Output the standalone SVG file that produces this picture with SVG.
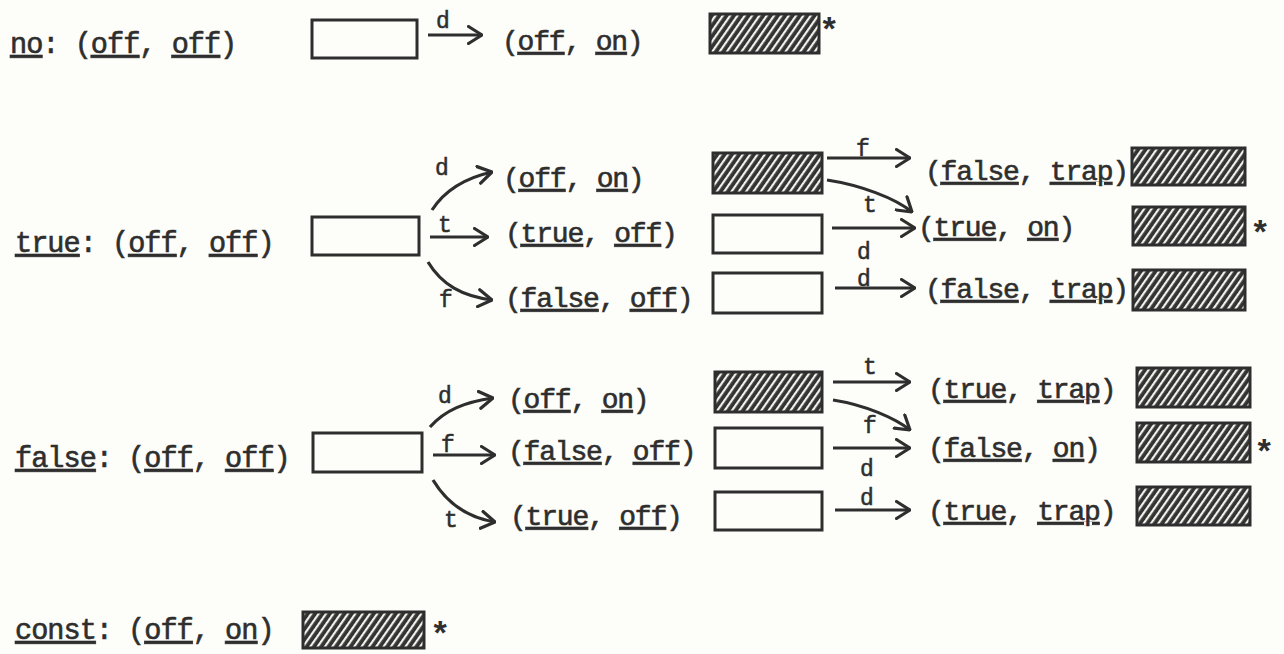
<svg xmlns="http://www.w3.org/2000/svg" width="1284" height="654" viewBox="0 0 1284 654">
<defs>
<style>
.m{font-family:"Liberation Mono","DejaVu Sans Mono",monospace;font-size:28px;letter-spacing:-1.2px;fill:#2e2e2e;stroke:#2e2e2e;stroke-width:0.6}
.lm{font-size:28.6px;letter-spacing:-1px}
.l{font-family:"Liberation Mono","DejaVu Sans Mono",monospace;font-size:23px;fill:#2e2e2e;stroke:#2e2e2e;stroke-width:0.5}
.s{font-family:"Liberation Mono","DejaVu Sans Mono",monospace;font-size:34px;font-weight:bold;fill:#2e2e2e}
.u{text-decoration:underline}
.box{fill:none;stroke:#2e2e2e;stroke-width:3}
.hb{fill:url(#hatch);stroke:#2e2e2e;stroke-width:3}
.c{fill:none;stroke:#2e2e2e;stroke-width:3.2;marker-end:url(#ah)}
</style>
<pattern id="hatch" patternUnits="userSpaceOnUse" width="6" height="6" patternTransform="rotate(35)">
<rect width="6" height="6" fill="#333"/>
<rect x="0" y="0" width="2.2" height="6" fill="#f2f2ec"/>
</pattern>
<marker id="ah" viewBox="0 0 16 20" refX="15" refY="10" markerWidth="16" markerHeight="20" markerUnits="userSpaceOnUse" orient="auto">
<path d="M1.5,1.5 L15,10 L1.5,18.5" fill="none" stroke="#2e2e2e" stroke-width="3.2" stroke-linecap="round" stroke-linejoin="round"/>
</marker>
</defs>
<rect width="1284" height="654" fill="#fdfdf9"/>

<!-- row: no -->
<g id="no-label"><text class="m lm" x="10" y="53"><tspan class="u">no</tspan>: (<tspan class="u">off</tspan>, <tspan class="u">off</tspan>)</text></g>
<g id="no-box"><rect class="box" x="312" y="20" width="105" height="38"/></g>
<g id="no-s1"><text class="m" x="502" y="50">(<tspan class="u">off</tspan>, <tspan class="u">on</tspan>)</text></g>
<g id="no-h1"><rect class="hb" x="710" y="14" width="109" height="39"/><text class="s" x="819" y="41">*</text></g>

<!-- row: true -->
<g id="true-label"><text class="m lm" x="15" y="252"><tspan class="u">true</tspan>: (<tspan class="u">off</tspan>, <tspan class="u">off</tspan>)</text></g>
<g id="true-box"><rect class="box" x="312" y="217" width="107" height="38"/></g>
<g id="true-s-d"><text class="m" x="503" y="187">(<tspan class="u">off</tspan>, <tspan class="u">on</tspan>)</text></g>
<g id="true-s-t"><text class="m" x="505" y="242">(<tspan class="u">true</tspan>, <tspan class="u">off</tspan>)</text></g>
<g id="true-s-f"><text class="m" x="505" y="307">(<tspan class="u">false</tspan>, <tspan class="u">off</tspan>)</text></g>
<g id="true-b-d"><rect class="hb" x="713" y="153" width="109" height="40"/></g>
<g id="true-b-t"><rect class="box" x="713" y="215" width="109" height="38"/></g>
<g id="true-b-f"><rect class="box" x="713" y="273" width="109" height="40"/></g>
<g id="true-r1"><text class="m" x="925" y="180">(<tspan class="u">false</tspan>, <tspan class="u">trap</tspan>)</text><rect class="hb" x="1132" y="148" width="113" height="37"/></g>
<g id="true-r2"><text class="m" x="918" y="236">(<tspan class="u">true</tspan>, <tspan class="u">on</tspan>)</text><rect class="hb" x="1133" y="207" width="112" height="38"/><text class="s" x="1250" y="244">*</text></g>
<g id="true-r3"><text class="m" x="925" y="298">(<tspan class="u">false</tspan>, <tspan class="u">trap</tspan>)</text><rect class="hb" x="1133" y="270" width="112" height="40"/></g>

<!-- row: false -->
<g id="false-label"><text class="m lm" x="15" y="467"><tspan class="u">false</tspan>: (<tspan class="u">off</tspan>, <tspan class="u">off</tspan>)</text></g>
<g id="false-box"><rect class="box" x="313" y="433" width="109" height="39"/></g>
<g id="false-s-d"><text class="m" x="508" y="408">(<tspan class="u">off</tspan>, <tspan class="u">on</tspan>)</text></g>
<g id="false-s-f"><text class="m" x="508" y="460">(<tspan class="u">false</tspan>, <tspan class="u">off</tspan>)</text></g>
<g id="false-s-t"><text class="m" x="510" y="525">(<tspan class="u">true</tspan>, <tspan class="u">off</tspan>)</text></g>
<g id="false-b-d"><rect class="hb" x="715" y="372" width="107" height="40"/></g>
<g id="false-b-f"><rect class="box" x="715" y="428" width="107" height="40"/></g>
<g id="false-b-t"><rect class="box" x="715" y="492" width="107" height="38"/></g>
<g id="false-r1"><text class="m" x="928" y="398">(<tspan class="u">true</tspan>, <tspan class="u">trap</tspan>)</text><rect class="hb" x="1137" y="368" width="113" height="39"/></g>
<g id="false-r2"><text class="m" x="928" y="457">(<tspan class="u">false</tspan>, <tspan class="u">on</tspan>)</text><rect class="hb" x="1137" y="423" width="113" height="39"/><text class="s" x="1254" y="463">*</text></g>
<g id="false-r3"><text class="m" x="928" y="520">(<tspan class="u">true</tspan>, <tspan class="u">trap</tspan>)</text><rect class="hb" x="1137" y="487" width="113" height="38"/></g>

<!-- row: const -->
<g id="const-label"><text class="m lm" x="15" y="639"><tspan class="u">const</tspan>: (<tspan class="u">off</tspan>, <tspan class="u">on</tspan>)</text></g>
<g id="const-h"><rect class="hb" x="303" y="612" width="121" height="36"/><text class="s" x="430" y="645">*</text></g>

<!-- connectors -->
<g id="connectors">
<path class="c" d="M428,35 L482,35"/>
<path class="c" d="M432,210 C445,190 465,178 492,172"/>
<path class="c" d="M430,237 L488,237"/>
<path class="c" d="M428,262 C442,285 462,296 492,300"/>
<path class="c" d="M827,158 L910,158"/>
<path class="c" d="M827,180 C860,185 895,198 912,212"/>
<path class="c" d="M832,228 L915,228"/>
<path class="c" d="M835,288 L915,288"/>
<path class="c" d="M430,427 C445,410 465,402 493,398"/>
<path class="c" d="M433,455 L495,455"/>
<path class="c" d="M433,480 C448,505 470,518 495,522"/>
<path class="c" d="M833,382 L910,382"/>
<path class="c" d="M833,400 C865,405 895,418 910,430"/>
<path class="c" d="M833,448 L910,448"/>
<path class="c" d="M835,510 L910,510"/>
<text class="l" x="436" y="28">d</text>
<text class="l" x="435" y="175">d</text>
<text class="l" x="438" y="232">t</text>
<text class="l" x="439" y="307">f</text>
<text class="l" x="856" y="156">f</text>
<text class="l" x="863" y="212">t</text>
<text class="l" x="857" y="259">d</text>
<text class="l" x="857" y="286">d</text>
<text class="l" x="438" y="403">d</text>
<text class="l" x="441" y="452">f</text>
<text class="l" x="444" y="527">t</text>
<text class="l" x="863" y="374">t</text>
<text class="l" x="863" y="433">f</text>
<text class="l" x="860" y="476">d</text>
<text class="l" x="860" y="505">d</text>
</g>
</svg>
